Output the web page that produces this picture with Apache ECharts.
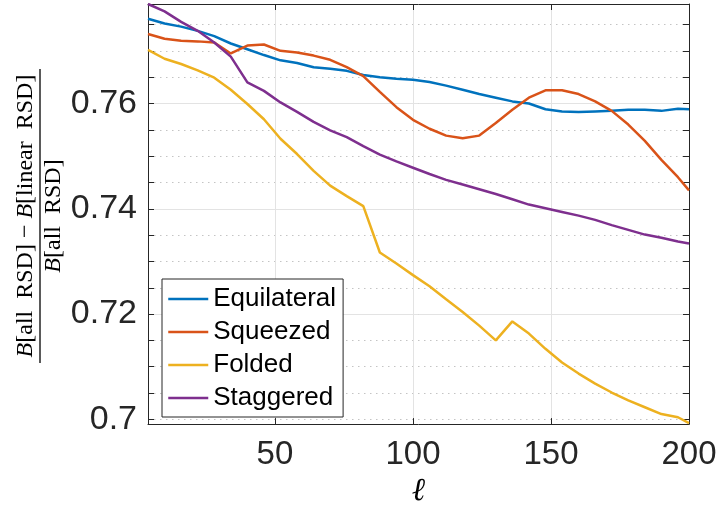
<!DOCTYPE html>
<html>
<head>
<meta charset="utf-8">
<script src="https://cdn.jsdelivr.net/npm/echarts@6/dist/echarts.min.js"></script>
<style>html,body{margin:0;padding:0;background:#fff}#c{width:720px;height:513px}</style>
</head>
<body>
<div id="c"></div>
<script>
const ell = [4,10,16,22,28,34,40,46,52,58,64,70,76,82,88,94,100,106,112,118,124,130,136,142,148,154,160,166,172,178,184,190,196,200];
const equilateral = [0.7761,0.7752,0.7746,0.7738,0.7728,0.7714,0.7703,0.7692,0.7682,0.7677,0.7669,0.7666,0.7662,0.7654,0.7650,0.7647,0.7645,0.7641,0.7634,0.7626,0.7618,0.7611,0.7604,0.7600,0.7589,0.7585,0.7584,0.7585,0.7586,0.7588,0.7588,0.7586,0.7590,0.7589];
const squeezed = [0.7732,0.7723,0.7719,0.7718,0.7716,0.7695,0.7710,0.7712,0.7700,0.7697,0.7691,0.7683,0.7669,0.7652,0.7622,0.7593,0.7569,0.7552,0.7539,0.7534,0.7539,0.7563,0.7588,0.7611,0.7625,0.7625,0.7618,0.7604,0.7586,0.7560,0.7529,0.7493,0.7460,0.7435];
const folded = [0.7702,0.7685,0.7675,0.7663,0.7649,0.7626,0.7599,0.7570,0.7533,0.7504,0.7472,0.7444,0.7424,0.7405,0.7317,0.7296,0.7274,0.7253,0.7228,0.7204,0.7178,0.7150,0.7186,0.7163,0.7134,0.7108,0.7087,0.7068,0.7051,0.7036,0.7023,0.7010,0.7004,0.6993];
const staggered = [0.7789,0.7775,0.7755,0.7738,0.7716,0.7689,0.7640,0.7624,0.7602,0.7584,0.7565,0.7549,0.7536,0.7519,0.7503,0.7490,0.7478,0.7466,0.7455,0.7446,0.7437,0.7428,0.7418,0.7408,0.7401,0.7394,0.7387,0.7379,0.7369,0.7360,0.7351,0.7345,0.7338,0.7334];
const seriesNames = ['Equilateral','Squeezed','Folded','Staggered'];
const xTicks = [50,100,150,200];
const xGrid = [50,100,150];
const yLabels = [0.70,0.72,0.74,0.76];
const yMajorGrid = [0.72,0.74,0.76];
const yMinorTicks = [0.700,0.705,0.710,0.715,0.720,0.725,0.730,0.735,0.740,0.745,0.750,0.755,0.760,0.765,0.770,0.775];

const colors = ['#0072BD','#D95319','#EDB120','#7E2F8E'];
const seriesData = [equilateral, squeezed, folded, staggered];
const X_MIN = 4, X_MAX = 200, Y_MIN = 0.6991, Y_MAX = 0.7789;
const axisColor = '#262626';
const labelFont = 'Liberation Sans, Arial, sans-serif';

const chart = echarts.init(document.getElementById('c'), null, {renderer:'canvas'});
const option = {
  animation: false,
  backgroundColor: '#fff',
  grid: {left: 148, right: 31, top: 4, bottom: 85, containLabel: false},
  xAxis: [
    {
      type: 'value', min: X_MIN, max: X_MAX, position: 'bottom',
      name: 'ℓ', nameLocation: 'middle', nameGap: 46,
      nameTextStyle: {fontFamily: 'Liberation Serif, DejaVu Serif, serif', fontStyle: 'italic', fontSize: 32, color: '#000'},
      axisLine: {show: true, onZero: false, lineStyle: {color: axisColor, width: 1}},
      axisTick: {show: true, inside: true, length: 6, customValues: xTicks, lineStyle: {color: axisColor}},
      axisLabel: {show: true, customValues: xTicks, margin: 14, fontSize: 33, fontFamily: labelFont, color: axisColor},
      splitLine: {show: false}
    },
    {
      type: 'value', min: X_MIN, max: X_MAX, position: 'top',
      axisLine: {show: true, onZero: false, lineStyle: {color: axisColor, width: 1}},
      axisTick: {show: true, inside: true, length: 6, customValues: xTicks, lineStyle: {color: axisColor}},
      axisLabel: {show: false},
      splitLine: {show: false}
    },
    {
      type: 'value', min: X_MIN, max: X_MAX, position: 'bottom', show: true,
      axisLine: {show: false}, axisLabel: {show: false},
      axisTick: {show: false, customValues: xGrid},
      splitLine: {show: true, lineStyle: {color: '#e3e3e3', width: 1, type: 'solid'}}
    }
  ],
  yAxis: [
    {
      type: 'value', min: Y_MIN, max: Y_MAX, position: 'left',
      axisLine: {show: true, onZero: false, lineStyle: {color: axisColor, width: 1}},
      axisTick: {show: true, inside: true, length: 6, customValues: yMinorTicks, lineStyle: {color: axisColor}},
      axisLabel: {show: true, customValues: yLabels, margin: 11, fontSize: 34, fontFamily: labelFont, color: axisColor, padding: [3, 0, 0, 0]},
      splitLine: {show: true, lineStyle: {color: '#c4c4c4', width: 1, type: [1.5, 4.5]}}
    },
    {
      type: 'value', min: Y_MIN, max: Y_MAX, position: 'right',
      axisLine: {show: true, onZero: false, lineStyle: {color: axisColor, width: 1}},
      axisTick: {show: true, inside: true, length: 6, customValues: yMinorTicks, lineStyle: {color: axisColor}},
      axisLabel: {show: false},
      splitLine: {show: false}
    },
    {
      type: 'value', min: Y_MIN, max: Y_MAX, position: 'left', show: true,
      axisLine: {show: false}, axisLabel: {show: false},
      axisTick: {show: false, customValues: yMajorGrid},
      splitLine: {show: true, lineStyle: {color: '#e3e3e3', width: 1, type: 'solid'}}
    }
  ],
  legend: {
    orient: 'vertical', left: 162, top: 279,
    itemWidth: 40, itemHeight: 20, itemGap: 7, itemTextGap: 5,
    padding: [7, 7, 6, 5],
    borderColor: axisColor, borderWidth: 1, backgroundColor: '#fff',
    itemStyle: {opacity: 0, color: 'transparent', borderWidth: 0},
    lineStyle: {width: 2.5},
    textStyle: {fontSize: 26, fontFamily: labelFont, color: '#000'},
    data: seriesNames
  },
  series: seriesNames.map((name, i) => ({
    name: name, type: 'line', xAxisIndex: 0, yAxisIndex: 0,
    data: ell.map((l, j) => [l, seriesData[i][j]]),
    symbol: 'none', showSymbol: false, clip: true,
    color: colors[i],
    lineStyle: {color: colors[i], width: 2.5}
  })),
  graphic: [
    {
      type: 'group', x: 40, y: 216, rotation: Math.PI / 2,
      children: [
        {
          type: 'text', x: 0, y: -14,
          style: {
            text: '{i|B}{r|[all  RSD] − }{i|B}{r|[linear  RSD]}',
            align: 'center', verticalAlign: 'middle',
            rich: {
              i: {fontFamily: 'Liberation Serif, serif', fontStyle: 'italic', fontSize: 24, fill: '#000'},
              r: {fontFamily: 'Liberation Serif, serif', fontSize: 24, fill: '#000'}
            }
          }
        },
        {
          type: 'line', shape: {x1: -147, y1: 0, x2: 147, y2: 0},
          style: {stroke: '#000', lineWidth: 1.3}
        },
        {
          type: 'text', x: 0, y: 14,
          style: {
            text: '{i|B}{r|[all  RSD]}',
            align: 'center', verticalAlign: 'middle',
            rich: {
              i: {fontFamily: 'Liberation Serif, serif', fontStyle: 'italic', fontSize: 24, fill: '#000'},
              r: {fontFamily: 'Liberation Serif, serif', fontSize: 24, fill: '#000'}
            }
          }
        }
      ]
    }
  ]
};
chart.setOption(option);
</script>
</body>
</html>
